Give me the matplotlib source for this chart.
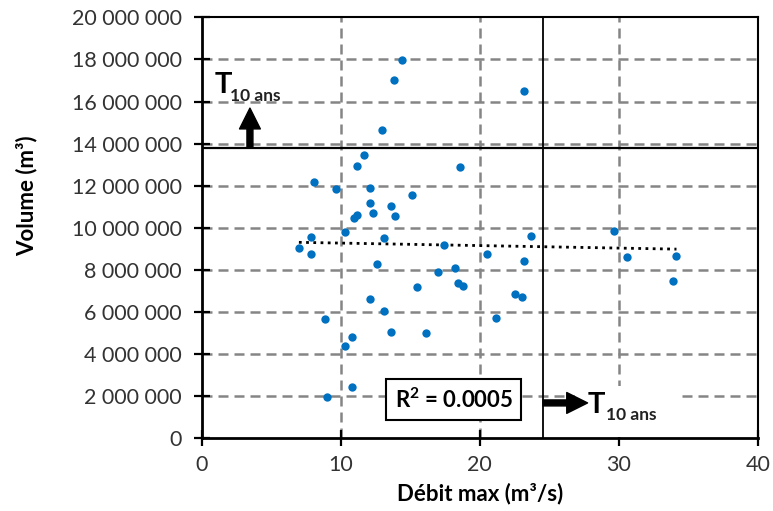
import numpy as np
import matplotlib
matplotlib.use('Agg')
from matplotlib import pyplot as plt
from matplotlib.ticker import FuncFormatter, MultipleLocator

# Débit max (m3/s) et volume (m3) des crues
debit = [14.4, 13.8, 23.2, 13.0, 11.67, 11.2, 18.6, 8.1, 9.7, 12.1,
         12.1, 13.63, 15.1, 10.97, 11.2, 12.3, 13.9, 10.3, 7.84, 7.0,
         7.9, 13.1, 17.45, 23.65, 20.5, 23.15, 29.64, 30.55, 34.14, 33.87,
         12.6, 17.0, 18.25, 18.4, 18.82, 15.5, 22.5, 23.05, 12.1, 21.2,
         13.12, 8.89, 13.63, 16.14, 10.83, 10.3, 10.83, 8.99]
volume_M = [17.97, 17.02, 16.51, 14.65, 13.46, 12.94, 12.88, 12.16, 11.86, 11.88,
            11.16, 11.02, 11.55, 10.48, 10.62, 10.72, 10.54, 9.78, 9.55, 9.03,
            8.77, 9.5, 9.19, 9.63, 8.76, 8.44, 9.83, 8.63, 8.68, 7.45,
            8.28, 7.9, 8.1, 7.38, 7.22, 7.17, 6.87, 6.71, 6.6, 5.73,
            6.06, 5.65, 5.05, 5.0, 4.8, 4.38, 2.42, 1.95]
volume = [v * 1e6 for v in volume_M]

# seuils de période de retour 10 ans
debit_t10 = 24.55
volume_t10 = 13.78e6
r2_text = 'R$^\\mathregular{2}$ = 0.0005'

plt.rcParams['font.family'] = ['Lato', 'DejaVu Sans']
plt.rcParams['mathtext.default'] = 'regular'

fig = plt.figure(figsize=(7.73, 5.11), dpi=100)
ax = fig.add_axes([0.2607, 0.1423, 0.7199, 0.8237])

# grille en tirets
grid_style = dict(color='#858585', lw=1.8, ls=(0, (4, 2.4)), zorder=1)
for v in np.arange(2e6, 20e6, 2e6):
    ax.axhline(v, **grid_style)
for v in [10, 20, 30]:
    ax.axvline(v, **grid_style)

# seuils T10
ax.axhline(volume_t10, color='black', lw=1.6, zorder=2)
ax.axvline(debit_t10, color='black', lw=1.3, zorder=2)

ax.scatter(debit, volume, s=36, color='#0070C0', zorder=4, linewidths=0)

# courbe de tendance linéaire
a, b = np.polyfit(debit, volume, 1)
xs = np.array([min(debit), max(debit)])
ax.plot(xs, a * xs + b, color='black', lw=2, ls=(0, (1, 1.6)), zorder=3)

ax.set_xlim(0, 40)
ax.set_ylim(0, 20e6)
ax.xaxis.set_major_locator(MultipleLocator(10))
ax.yaxis.set_major_locator(MultipleLocator(2e6))
ax.yaxis.set_major_formatter(FuncFormatter(lambda v, p: f"{int(v):,}".replace(",", " ")))
ax.tick_params(direction='inout', length=12, width=1.6, labelsize=15.5,
               colors='black', labelcolor='#333333')
ax.tick_params(axis='y', pad=8)
ax.tick_params(axis='x', pad=6)
for side in ['left', 'bottom']:
    ax.spines[side].set_linewidth(2)
for side in ['top', 'right']:
    ax.spines[side].set_linewidth(1.5)

# annotations T10
ax.annotate('', xy=(3.48, 15.69e6), xytext=(3.48, volume_t10),
            arrowprops=dict(facecolor='black', edgecolor='black', width=4.3,
                            headwidth=15, headlength=15, shrink=0), zorder=5)
ax.text(0.97, 16.41e6, 'T', fontsize=21, fontweight='bold', ha='left', va='baseline')
ax.text(2.05, 16.02e6, '10 ans', fontsize=12.5, fontweight='bold', color='#222222',
        ha='left', va='baseline')

ax.text(27.75, 0.87e6, ' T' + ' ' * 8, fontsize=20, fontweight='bold', ha='left',
        va='baseline', alpha=0,
        bbox=dict(facecolor='white', edgecolor='none', boxstyle='square,pad=0.45'),
        zorder=4)
ax.text(27.74, 1.21e6, 'T', fontsize=21, fontweight='bold', ha='left', va='baseline',
        zorder=6)
ax.text(29.1, 0.87e6, '10 ans', fontsize=12.5, fontweight='bold', color='#222222',
        ha='left', va='baseline', zorder=6)
ax.annotate('', xy=(27.75, 1.68e6), xytext=(debit_t10, 1.68e6),
            arrowprops=dict(facecolor='black', edgecolor='black', width=4.3,
                            headwidth=15, headlength=15, shrink=0), zorder=6)

ax.text(18.13, 1.84e6, r2_text, fontsize=16, fontweight='bold', ha='center',
        va='center', zorder=6,
        bbox=dict(facecolor='white', edgecolor='black', linewidth=1.5,
                  boxstyle='square,pad=0.38'))

fig.text(480 / 773, 1 - 494 / 511, 'Débit max (m³/s)', fontsize=16,
         fontweight='bold', ha='center', va='center')
fig.text(27 / 773, 1 - 196 / 511, 'Volume (m³)', fontsize=16, fontweight='bold',
         ha='center', va='center', rotation=90)

fig.savefig('out.png', dpi=100)
